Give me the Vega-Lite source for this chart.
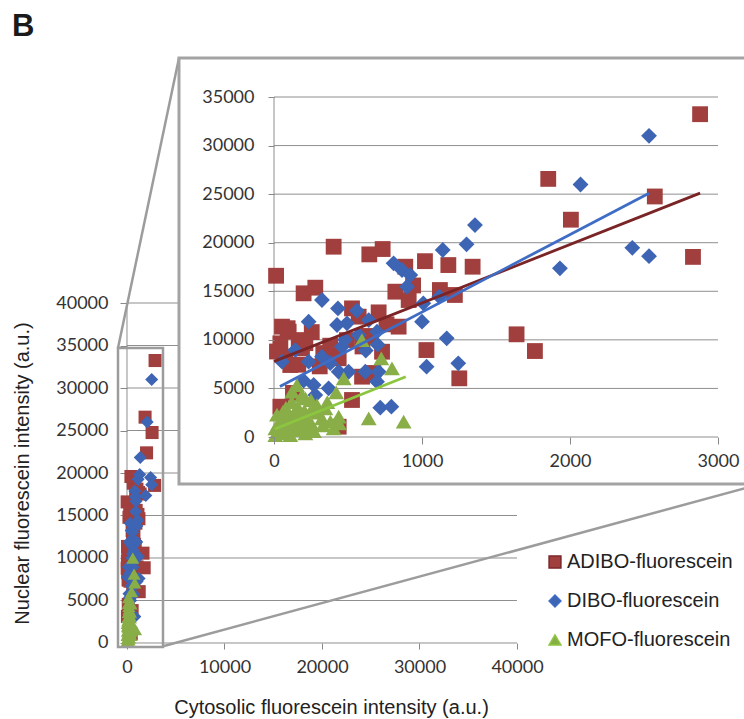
{
  "$schema": "https://vega.github.io/schema/vega-lite/v6.json",
  "width": 744,
  "height": 719,
  "autosize": {"type": "none"},
  "padding": 0,
  "background": "white",
  "title": {"text": "B", "anchor": "start", "frame": "group", "font": "Liberation Sans", "fontSize": 31, "fontWeight": "bold", "color": "#1a1a1a", "offset": 0, "dx": 12, "dy": 43},
  "config": {
    "view": {"stroke": null},
    "font": "Liberation Sans",
    "legend": {"orient": "none", "legendX": 545, "legendY": 552, "labelFont": "Liberation Sans", "labelFontSize": 20, "labelColor": "#222", "labelLimit": 300, "symbolSize": 140, "rowPadding": 19, "labelOffset": 2, "symbolOpacity": 1}
  },
  "datasets": {
    "points": [
      {"series": "ADIBO-fluorescein", "cytosolic": 14, "nuclear": 16600},
      {"series": "ADIBO-fluorescein", "cytosolic": 403, "nuclear": 19590},
      {"series": "ADIBO-fluorescein", "cytosolic": 644, "nuclear": 18800},
      {"series": "ADIBO-fluorescein", "cytosolic": 734, "nuclear": 19350},
      {"series": "ADIBO-fluorescein", "cytosolic": 1020, "nuclear": 18100},
      {"series": "ADIBO-fluorescein", "cytosolic": 200, "nuclear": 14790},
      {"series": "ADIBO-fluorescein", "cytosolic": 279, "nuclear": 15370},
      {"series": "ADIBO-fluorescein", "cytosolic": 887, "nuclear": 17530},
      {"series": "ADIBO-fluorescein", "cytosolic": 820, "nuclear": 14960},
      {"series": "ADIBO-fluorescein", "cytosolic": 910, "nuclear": 14100},
      {"series": "ADIBO-fluorescein", "cytosolic": 527, "nuclear": 13240},
      {"series": "ADIBO-fluorescein", "cytosolic": 572, "nuclear": 12390},
      {"series": "ADIBO-fluorescein", "cytosolic": 707, "nuclear": 12830},
      {"series": "ADIBO-fluorescein", "cytosolic": 842, "nuclear": 11360},
      {"series": "ADIBO-fluorescein", "cytosolic": 54, "nuclear": 11360},
      {"series": "ADIBO-fluorescein", "cytosolic": 99, "nuclear": 10840},
      {"series": "ADIBO-fluorescein", "cytosolic": 167, "nuclear": 9980},
      {"series": "ADIBO-fluorescein", "cytosolic": 43, "nuclear": 9640},
      {"series": "ADIBO-fluorescein", "cytosolic": 189, "nuclear": 9130},
      {"series": "ADIBO-fluorescein", "cytosolic": 77, "nuclear": 8270},
      {"series": "ADIBO-fluorescein", "cytosolic": 730, "nuclear": 8780},
      {"series": "ADIBO-fluorescein", "cytosolic": 1030, "nuclear": 8950},
      {"series": "ADIBO-fluorescein", "cytosolic": 493, "nuclear": 9980},
      {"series": "ADIBO-fluorescein", "cytosolic": 437, "nuclear": 8100},
      {"series": "ADIBO-fluorescein", "cytosolic": 595, "nuclear": 6210},
      {"series": "ADIBO-fluorescein", "cytosolic": 110, "nuclear": 7410},
      {"series": "ADIBO-fluorescein", "cytosolic": 527, "nuclear": 3810},
      {"series": "ADIBO-fluorescein", "cytosolic": 43, "nuclear": 3120},
      {"series": "ADIBO-fluorescein", "cytosolic": 437, "nuclear": 1060},
      {"series": "ADIBO-fluorescein", "cytosolic": 1178, "nuclear": 17700},
      {"series": "ADIBO-fluorescein", "cytosolic": 1342, "nuclear": 17530},
      {"series": "ADIBO-fluorescein", "cytosolic": 1121, "nuclear": 15130},
      {"series": "ADIBO-fluorescein", "cytosolic": 1222, "nuclear": 14620},
      {"series": "ADIBO-fluorescein", "cytosolic": 1639, "nuclear": 10570},
      {"series": "ADIBO-fluorescein", "cytosolic": 1763, "nuclear": 8850},
      {"series": "ADIBO-fluorescein", "cytosolic": 1252, "nuclear": 6040},
      {"series": "ADIBO-fluorescein", "cytosolic": 2879, "nuclear": 33230},
      {"series": "ADIBO-fluorescein", "cytosolic": 1853, "nuclear": 26570},
      {"series": "ADIBO-fluorescein", "cytosolic": 2573, "nuclear": 24760},
      {"series": "ADIBO-fluorescein", "cytosolic": 2006, "nuclear": 22370},
      {"series": "ADIBO-fluorescein", "cytosolic": 2831, "nuclear": 18540},
      {"series": "ADIBO-fluorescein", "cytosolic": 92, "nuclear": 11200},
      {"series": "ADIBO-fluorescein", "cytosolic": 212, "nuclear": 9660},
      {"series": "ADIBO-fluorescein", "cytosolic": 309, "nuclear": 7270},
      {"series": "ADIBO-fluorescein", "cytosolic": 333, "nuclear": 8640},
      {"series": "ADIBO-fluorescein", "cytosolic": 598, "nuclear": 9320},
      {"series": "ADIBO-fluorescein", "cytosolic": 671, "nuclear": 6590},
      {"series": "ADIBO-fluorescein", "cytosolic": 164, "nuclear": 7440},
      {"series": "ADIBO-fluorescein", "cytosolic": 128, "nuclear": 4540},
      {"series": "ADIBO-fluorescein", "cytosolic": 255, "nuclear": 10800},
      {"series": "ADIBO-fluorescein", "cytosolic": 380, "nuclear": 9400},
      {"series": "ADIBO-fluorescein", "cytosolic": 940, "nuclear": 15600},
      {"series": "ADIBO-fluorescein", "cytosolic": 640, "nuclear": 10400},
      {"series": "ADIBO-fluorescein", "cytosolic": 760, "nuclear": 11600},
      {"series": "ADIBO-fluorescein", "cytosolic": 20, "nuclear": 8800},
      {"series": "DIBO-fluorescein", "cytosolic": 324, "nuclear": 14100},
      {"series": "DIBO-fluorescein", "cytosolic": 432, "nuclear": 13240},
      {"series": "DIBO-fluorescein", "cytosolic": 234, "nuclear": 11870},
      {"series": "DIBO-fluorescein", "cytosolic": 426, "nuclear": 11530},
      {"series": "DIBO-fluorescein", "cytosolic": 493, "nuclear": 11700},
      {"series": "DIBO-fluorescein", "cytosolic": 808, "nuclear": 17880},
      {"series": "DIBO-fluorescein", "cytosolic": 865, "nuclear": 17190},
      {"series": "DIBO-fluorescein", "cytosolic": 921, "nuclear": 16670},
      {"series": "DIBO-fluorescein", "cytosolic": 899, "nuclear": 15470},
      {"series": "DIBO-fluorescein", "cytosolic": 1009, "nuclear": 13760},
      {"series": "DIBO-fluorescein", "cytosolic": 1000, "nuclear": 11870},
      {"series": "DIBO-fluorescein", "cytosolic": 1031, "nuclear": 7240},
      {"series": "DIBO-fluorescein", "cytosolic": 640, "nuclear": 12040},
      {"series": "DIBO-fluorescein", "cytosolic": 696, "nuclear": 10840},
      {"series": "DIBO-fluorescein", "cytosolic": 572, "nuclear": 10500},
      {"series": "DIBO-fluorescein", "cytosolic": 459, "nuclear": 9300},
      {"series": "DIBO-fluorescein", "cytosolic": 144, "nuclear": 8950},
      {"series": "DIBO-fluorescein", "cytosolic": 234, "nuclear": 7750},
      {"series": "DIBO-fluorescein", "cytosolic": 324, "nuclear": 8270},
      {"series": "DIBO-fluorescein", "cytosolic": 437, "nuclear": 6720},
      {"series": "DIBO-fluorescein", "cytosolic": 504, "nuclear": 6720},
      {"series": "DIBO-fluorescein", "cytosolic": 617, "nuclear": 6720},
      {"series": "DIBO-fluorescein", "cytosolic": 707, "nuclear": 6720},
      {"series": "DIBO-fluorescein", "cytosolic": 696, "nuclear": 5700},
      {"series": "DIBO-fluorescein", "cytosolic": 268, "nuclear": 5350},
      {"series": "DIBO-fluorescein", "cytosolic": 369, "nuclear": 5010},
      {"series": "DIBO-fluorescein", "cytosolic": 279, "nuclear": 4320},
      {"series": "DIBO-fluorescein", "cytosolic": 718, "nuclear": 3020},
      {"series": "DIBO-fluorescein", "cytosolic": 793, "nuclear": 3120},
      {"series": "DIBO-fluorescein", "cytosolic": 54, "nuclear": 7750},
      {"series": "DIBO-fluorescein", "cytosolic": 1358, "nuclear": 21820},
      {"series": "DIBO-fluorescein", "cytosolic": 1301, "nuclear": 19830},
      {"series": "DIBO-fluorescein", "cytosolic": 1140, "nuclear": 19250},
      {"series": "DIBO-fluorescein", "cytosolic": 1932, "nuclear": 17360},
      {"series": "DIBO-fluorescein", "cytosolic": 1117, "nuclear": 14450},
      {"series": "DIBO-fluorescein", "cytosolic": 1167, "nuclear": 10160},
      {"series": "DIBO-fluorescein", "cytosolic": 1245, "nuclear": 7580},
      {"series": "DIBO-fluorescein", "cytosolic": 2534, "nuclear": 31000},
      {"series": "DIBO-fluorescein", "cytosolic": 2071, "nuclear": 25990},
      {"series": "DIBO-fluorescein", "cytosolic": 2421, "nuclear": 19470},
      {"series": "DIBO-fluorescein", "cytosolic": 2534, "nuclear": 18610},
      {"series": "DIBO-fluorescein", "cytosolic": 560, "nuclear": 13000},
      {"series": "DIBO-fluorescein", "cytosolic": 480, "nuclear": 10000},
      {"series": "DIBO-fluorescein", "cytosolic": 700, "nuclear": 9500},
      {"series": "DIBO-fluorescein", "cytosolic": 380, "nuclear": 7600},
      {"series": "DIBO-fluorescein", "cytosolic": 200, "nuclear": 5800},
      {"series": "DIBO-fluorescein", "cytosolic": 620, "nuclear": 8900},
      {"series": "MOFO-fluorescein", "cytosolic": 594, "nuclear": 9980},
      {"series": "MOFO-fluorescein", "cytosolic": 725, "nuclear": 8100},
      {"series": "MOFO-fluorescein", "cytosolic": 797, "nuclear": 7070},
      {"series": "MOFO-fluorescein", "cytosolic": 471, "nuclear": 6040},
      {"series": "MOFO-fluorescein", "cytosolic": 155, "nuclear": 5350},
      {"series": "MOFO-fluorescein", "cytosolic": 122, "nuclear": 4670},
      {"series": "MOFO-fluorescein", "cytosolic": 212, "nuclear": 3980},
      {"series": "MOFO-fluorescein", "cytosolic": 640, "nuclear": 1920},
      {"series": "MOFO-fluorescein", "cytosolic": 876, "nuclear": 1580},
      {"series": "MOFO-fluorescein", "cytosolic": 437, "nuclear": 2090},
      {"series": "MOFO-fluorescein", "cytosolic": 381, "nuclear": 1580},
      {"series": "MOFO-fluorescein", "cytosolic": 403, "nuclear": 890},
      {"series": "MOFO-fluorescein", "cytosolic": 9, "nuclear": 890},
      {"series": "MOFO-fluorescein", "cytosolic": 54, "nuclear": 550},
      {"series": "MOFO-fluorescein", "cytosolic": 257, "nuclear": 1240},
      {"series": "MOFO-fluorescein", "cytosolic": 324, "nuclear": 1920},
      {"series": "MOFO-fluorescein", "cytosolic": 144, "nuclear": 2610},
      {"series": "MOFO-fluorescein", "cytosolic": 54, "nuclear": 1920},
      {"series": "MOFO-fluorescein", "cytosolic": 9, "nuclear": 200},
      {"series": "MOFO-fluorescein", "cytosolic": 212, "nuclear": 380},
      {"series": "MOFO-fluorescein", "cytosolic": 245, "nuclear": 2610},
      {"series": "MOFO-fluorescein", "cytosolic": 290, "nuclear": 3290},
      {"series": "MOFO-fluorescein", "cytosolic": 347, "nuclear": 2950},
      {"series": "MOFO-fluorescein", "cytosolic": 30, "nuclear": 1400},
      {"series": "MOFO-fluorescein", "cytosolic": 80, "nuclear": 3000},
      {"series": "MOFO-fluorescein", "cytosolic": 100, "nuclear": 1200},
      {"series": "MOFO-fluorescein", "cytosolic": 180, "nuclear": 2200},
      {"series": "MOFO-fluorescein", "cytosolic": 150, "nuclear": 700},
      {"series": "MOFO-fluorescein", "cytosolic": 190, "nuclear": 4300},
      {"series": "MOFO-fluorescein", "cytosolic": 120, "nuclear": 3600},
      {"series": "MOFO-fluorescein", "cytosolic": 60, "nuclear": 2600},
      {"series": "MOFO-fluorescein", "cytosolic": 230, "nuclear": 1700},
      {"series": "MOFO-fluorescein", "cytosolic": 270, "nuclear": 600},
      {"series": "MOFO-fluorescein", "cytosolic": 20, "nuclear": 2300},
      {"series": "MOFO-fluorescein", "cytosolic": 170, "nuclear": 1500},
      {"series": "MOFO-fluorescein", "cytosolic": 110, "nuclear": 200},
      {"series": "MOFO-fluorescein", "cytosolic": 300, "nuclear": 2500},
      {"series": "MOFO-fluorescein", "cytosolic": 360, "nuclear": 3600},
      {"series": "MOFO-fluorescein", "cytosolic": 420, "nuclear": 4600},
      {"series": "MOFO-fluorescein", "cytosolic": 160, "nuclear": 3100},
      {"series": "MOFO-fluorescein", "cytosolic": 205, "nuclear": 2700},
      {"series": "MOFO-fluorescein", "cytosolic": 95, "nuclear": 2100},
      {"series": "MOFO-fluorescein", "cytosolic": 135, "nuclear": 1800},
      {"series": "MOFO-fluorescein", "cytosolic": 40, "nuclear": 900},
      {"series": "MOFO-fluorescein", "cytosolic": 75, "nuclear": 400},
      {"series": "MOFO-fluorescein", "cytosolic": 250, "nuclear": 3800},
      {"series": "MOFO-fluorescein", "cytosolic": 330, "nuclear": 1200},
      {"series": "MOFO-fluorescein", "cytosolic": 200, "nuclear": 1000},
      {"series": "MOFO-fluorescein", "cytosolic": 440, "nuclear": 1400}
    ],
    "trend": [
      {"series": "ADIBO-fluorescein", "cytosolic": 0, "nuclear": 7790},
      {"series": "ADIBO-fluorescein", "cytosolic": 2879, "nuclear": 25100},
      {"series": "DIBO-fluorescein", "cytosolic": 40, "nuclear": 5200},
      {"series": "DIBO-fluorescein", "cytosolic": 2534, "nuclear": 25100},
      {"series": "MOFO-fluorescein", "cytosolic": 5, "nuclear": 830},
      {"series": "MOFO-fluorescein", "cytosolic": 890, "nuclear": 6200}
    ],
    "gridMain": [
      {"v": 5000}, {"v": 10000}, {"v": 15000}, {"v": 20000},
      {"v": 25000}, {"v": 30000}, {"v": 35000}, {"v": 40000}
    ],
    "gridInset": [
      {"v": 5000}, {"v": 10000}, {"v": 15000}, {"v": 20000},
      {"v": 25000}, {"v": 30000}, {"v": 35000}
    ]
  },
  "layer": [
    {
      "layer": [
        {
          "data": {"name": "gridMain"},
          "mark": {"type": "rule", "color": "#8e8e8e", "strokeWidth": 1},
          "encoding": {
            "y": {"field": "v", "type": "quantitative"},
            "x": {"datum": 0, "type": "quantitative"},
            "x2": {"datum": 40000}
          }
        },
        {
          "data": {"values": [{}]},
          "mark": {"type": "rule", "color": "#8e8e8e", "strokeWidth": 1},
          "encoding": {
            "x": {"datum": 0, "type": "quantitative"},
            "y": {"datum": 0, "type": "quantitative"},
            "x2": {"datum": 40000}
          }
        },
        {
          "data": {"values": [{}]},
          "mark": {"type": "rule", "color": "#8e8e8e", "strokeWidth": 1},
          "encoding": {
            "x": {"datum": 0, "type": "quantitative"},
            "y": {"datum": 0, "type": "quantitative"},
            "y2": {"datum": 40000}
          }
        },
        {
          "data": {"name": "points"},
          "mark": {"type": "point", "filled": true, "opacity": 1, "size": 170},
          "encoding": {
            "x": {
              "field": "cytosolic", "type": "quantitative",
              "scale": {"domain": [-13025.6, 63282.1], "nice": false, "zero": false},
              "axis": {"orient": "bottom", "offset": -76, "values": [0, 10000, 20000, 30000, 40000], "format": "d", "domain": false, "grid": false, "tickSize": 6, "tickColor": "#888", "labelFont": "Lato", "labelFontSize": 18, "labelColor": "#333", "labelPadding": 9, "title": "Cytosolic fluorescein intensity (a.u.)", "titleFont": "Liberation Sans", "titleFontSize": 20, "titleFontWeight": "normal", "titleColor": "#222", "titleX": 331, "titleY": 64, "titleBaseline": "middle", "zindex": 0}
            },
            "y": {
              "field": "nuclear", "type": "quantitative",
              "scale": {"domain": [-8941.2, 75647.1], "nice": false, "zero": false},
              "axis": {"orient": "left", "offset": -127, "values": [0, 5000, 10000, 15000, 20000, 25000, 30000, 35000, 40000], "format": "d", "domain": false, "grid": false, "tickSize": 7, "tickColor": "#888", "labelFont": "Lato", "labelFontSize": 18, "labelColor": "#333", "labelPadding": 12, "title": "Nuclear fluorescein intensity (a.u.)", "titleFont": "Liberation Sans", "titleFontSize": 20, "titleFontWeight": "normal", "titleColor": "#222", "titleX": -105, "titleY": 473, "titleBaseline": "middle", "zindex": 0}
            },
            "color": {
              "field": "series", "type": "nominal",
              "scale": {"domain": ["ADIBO-fluorescein", "DIBO-fluorescein", "MOFO-fluorescein"], "range": ["#A03F3D", "#3E64B4", "#89AE48"]},
              "legend": {"title": null}
            },
            "shape": {
              "field": "series", "type": "nominal",
              "scale": {"domain": ["ADIBO-fluorescein", "DIBO-fluorescein", "MOFO-fluorescein"], "range": ["square", "diamond", "triangle-up"]},
              "legend": {"title": null}
            }
          }
        },
        {
          "data": {"values": [{}]},
          "mark": {"type": "rect", "fillOpacity": 0, "stroke": "#9c9c9c", "strokeWidth": 2.5},
          "encoding": {
            "x": {"datum": -923, "type": "quantitative"},
            "x2": {"datum": 3692},
            "y": {"datum": -471, "type": "quantitative"},
            "y2": {"datum": 34706}
          }
        },
        {
          "data": {"values": [{}]},
          "mark": {"type": "rule", "color": "#9c9c9c", "strokeWidth": 2.5},
          "encoding": {
            "x": {"datum": -923, "type": "quantitative"},
            "y": {"datum": 34706, "type": "quantitative"},
            "x2": {"datum": 5333},
            "y2": {"datum": 68824}
          }
        },
        {
          "data": {"values": [{}]},
          "mark": {"type": "rule", "color": "#9c9c9c", "strokeWidth": 2.5},
          "encoding": {
            "x": {"datum": 3795, "type": "quantitative"},
            "y": {"datum": -353, "type": "quantitative"},
            "x2": {"datum": 64000},
            "y2": {"datum": 18400}
          }
        }
      ]
    },
    {
      "layer": [
        {
          "data": {"values": [{}]},
          "mark": {"type": "rect", "fill": "white", "stroke": "#a3a3a3", "strokeWidth": 3},
          "encoding": {
            "x": {"datum": -642, "type": "quantitative"},
            "x2": {"datum": 3300},
            "y": {"datum": -4838, "type": "quantitative"},
            "y2": {"datum": 39015}
          }
        },
        {
          "data": {"name": "gridInset"},
          "mark": {"type": "rule", "color": "#8e8e8e", "strokeWidth": 1},
          "encoding": {
            "y": {"field": "v", "type": "quantitative"},
            "x": {"datum": 0, "type": "quantitative"},
            "x2": {"datum": 3000}
          }
        },
        {
          "data": {"values": [{}]},
          "mark": {"type": "rule", "color": "#8e8e8e", "strokeWidth": 1},
          "encoding": {
            "x": {"datum": 0, "type": "quantitative"},
            "y": {"datum": 0, "type": "quantitative"},
            "x2": {"datum": 3000}
          }
        },
        {
          "data": {"values": [{}]},
          "mark": {"type": "rule", "color": "#8e8e8e", "strokeWidth": 1},
          "encoding": {
            "x": {"datum": 0, "type": "quantitative"},
            "y": {"datum": 0, "type": "quantitative"},
            "y2": {"datum": 35000}
          }
        },
        {
          "data": {"name": "points"},
          "mark": {"type": "point", "filled": true, "opacity": 1, "size": 250},
          "encoding": {
            "x": {
              "field": "cytosolic", "type": "quantitative",
              "scale": {"domain": [-1851.4, 3175.7], "nice": false, "zero": false},
              "axis": {"orient": "bottom", "offset": -282, "values": [0, 1000, 2000, 3000], "format": "d", "domain": false, "grid": false, "tickSize": 7, "tickColor": "#888", "labelFont": "Lato", "labelFontSize": 18, "labelColor": "#333", "labelPadding": 8, "title": null, "zindex": 1}
            },
            "y": {
              "field": "nuclear", "type": "quantitative",
              "scale": {"domain": [-29029.4, 44985.3], "nice": false, "zero": false},
              "axis": {"orient": "left", "offset": -274, "values": [0, 5000, 10000, 15000, 20000, 25000, 30000, 35000], "format": "d", "domain": false, "grid": false, "tickSize": 6, "tickColor": "#888", "labelFont": "Lato", "labelFontSize": 18, "labelColor": "#333", "labelPadding": 14, "title": null, "zindex": 1}
            },
            "color": {
              "field": "series", "type": "nominal",
              "scale": {"domain": ["ADIBO-fluorescein", "DIBO-fluorescein", "MOFO-fluorescein"], "range": ["#A03F3D", "#3E64B4", "#89AE48"]},
              "legend": {"title": null}
            },
            "shape": {
              "field": "series", "type": "nominal",
              "scale": {"domain": ["ADIBO-fluorescein", "DIBO-fluorescein", "MOFO-fluorescein"], "range": ["square", "diamond", "triangle-up"]},
              "legend": {"title": null}
            }
          }
        },
        {
          "data": {"name": "trend"},
          "mark": {"type": "line", "strokeWidth": 2.8},
          "encoding": {
            "x": {"field": "cytosolic", "type": "quantitative"},
            "y": {"field": "nuclear", "type": "quantitative"},
            "stroke": {
              "field": "series", "type": "nominal",
              "scale": {"domain": ["ADIBO-fluorescein", "DIBO-fluorescein", "MOFO-fluorescein"], "range": ["#7A2426", "#3F6DC6", "#8CC63F"]},
              "legend": null
            }
          }
        }
      ]
    }
  ],
  "resolve": {"scale": {"x": "independent", "y": "independent"}}
}
